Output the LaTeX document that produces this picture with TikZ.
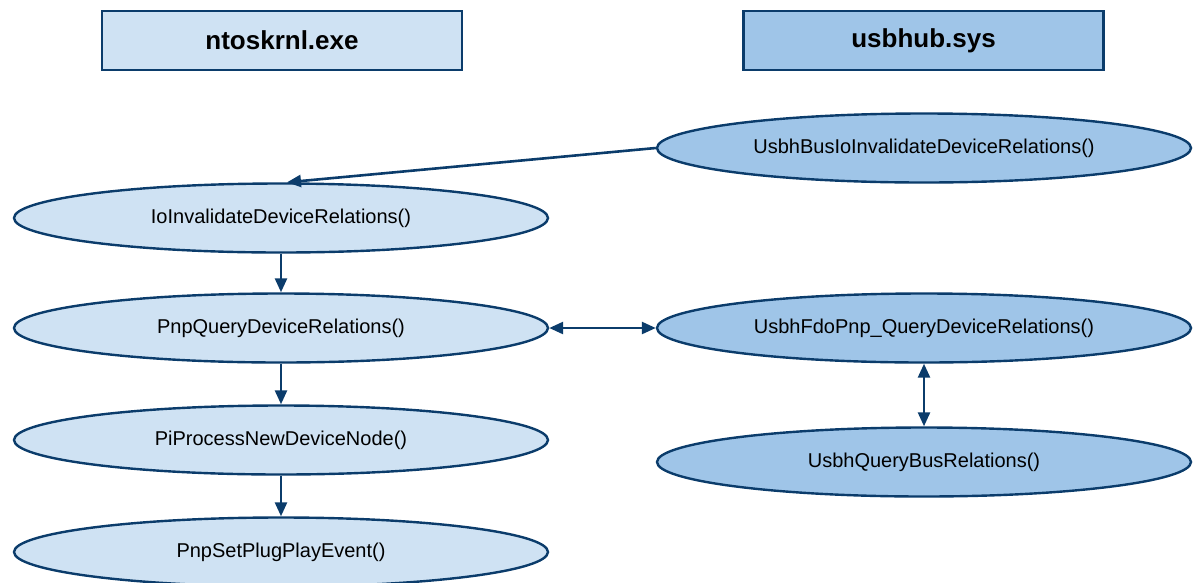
\documentclass[tikz,border=0pt]{standalone}
\usepackage{fontspec}
\setmainfont{Liberation Sans}
\usetikzlibrary{shapes.geometric,arrows.meta}
\definecolor{lightfill}{HTML}{CFE2F3}
\definecolor{darkfill}{HTML}{9FC5E8}
\definecolor{edgeblue}{HTML}{0B3C6B}
\tikzset{
  x=1pt,y=1pt,
  hdr/.style={draw=edgeblue,line width=2.4pt,minimum width=360pt,minimum height=59pt,inner sep=0pt,font=\fontsize{26}{30}\selectfont\bfseries},
  fn/.style={ellipse,draw=edgeblue,line width=2.4pt,minimum width=534pt,minimum height=69pt,inner sep=0pt,font=\fontsize{20}{24}\selectfont},
  lft/.style={fill=lightfill},
  rgt/.style={fill=darkfill},
  conn/.style={draw=edgeblue,line width=2.6pt,-{Triangle[length=14pt,width=12pt]}},
  bconn/.style={draw=edgeblue,line width=2.6pt,{Triangle[length=14pt,width=12pt]}-{Triangle[length=14pt,width=12pt]}}
}
\begin{document}
\begin{tikzpicture}
\useasboundingbox (0,0) rectangle (1197,-582);
\node[hdr,lft] (nt) at (282,-40.5) {ntoskrnl.exe};
\node[hdr,rgt] (usb) at (923.5,-40.5) {usbhub.sys};
\node[fn,lft] (io) at (281,-218) {IoInvalidateDeviceRelations()};
\node[fn,lft] (pq) at (281,-328) {PnpQueryDeviceRelations()};
\node[fn,lft] (pi) at (281,-440) {PiProcessNewDeviceNode()};
\node[fn,lft] (ps) at (281,-552) {PnpSetPlugPlayEvent()};
\node[fn,rgt] (ub) at (924,-148) {UsbhBusIoInvalidateDeviceRelations()};
\node[fn,rgt] (uf) at (924,-328) {UsbhFdoPnp\_QueryDeviceRelations()};
\node[fn,rgt] (uq) at (924,-462) {UsbhQueryBusRelations()};
\draw[conn] (ub.west) -- ([xshift=6pt]io.north);
\draw[conn] (io.south) -- (pq.north);
\draw[conn] (pq.south) -- (pi.north);
\draw[conn] (pi.south) -- (ps.north);
\draw[bconn] (pq.east) -- (uf.west);
\draw[bconn] (uf.south) -- (uq.north);
\end{tikzpicture}
\end{document}
